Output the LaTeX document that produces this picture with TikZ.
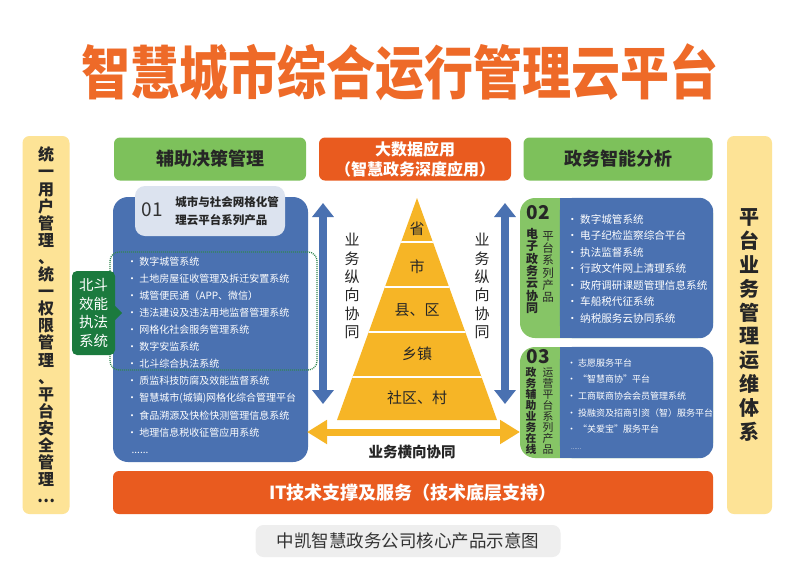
\documentclass[tikz,border=0pt]{standalone}
\usepackage{fontspec}
\setmainfont{Noto Sans CJK SC}
\usepackage{xcolor}
\usepackage{tikz}
\usetikzlibrary{arrows.meta,positioning,calc}

\definecolor{panelblue}{HTML}{4A71B1}
\definecolor{hdrgreen}{HTML}{7DC15B}
\definecolor{sidegreen}{HTML}{86C566}
\definecolor{hotorange}{HTML}{E95B1F}
\definecolor{titleorange}{HTML}{EE6A28}
\definecolor{pyrgold}{HTML}{F6B526}
\definecolor{baryellow}{HTML}{FDE396}
\definecolor{labelgray}{HTML}{DCE3EF}
\definecolor{beidougreen}{HTML}{1B7A3E}
\definecolor{capgray}{HTML}{EEEEEE}

\begin{document}
\begin{tikzpicture}[x=1pt,y=-1pt,
    panel/.style={fill=panelblue,rounded corners=15pt,inner sep=0pt},
    header/.style={rounded corners=6pt,minimum height=43pt,align=center,
      inner sep=0pt,font=\fontsize{18}{20}\selectfont\bfseries},
    sidebar/.style={fill=baryellow,rounded corners=7pt,minimum height=378pt,
      align=center,inner sep=0pt,text=black!85},
    itemlist/.style={anchor=north west,align=left,inner sep=0pt,text=white},
    vtext/.style={align=center,inner sep=0pt,text=black!85},
    level/.style={font=\fontsize{15}{15}\selectfont,text=black!85},
    vflow/.style={{Triangle[width=21pt,length=14pt]}-{Triangle[width=21pt,length=14pt]},
      line width=8pt,draw=panelblue},
    hflow/.style={{Triangle[width=23pt,length=20pt]}-{Triangle[width=23pt,length=20pt]},
      line width=7pt,draw=pyrgold}
  ]
    \useasboundingbox[fill=white] (0,0) rectangle (800,568);
    % title
    \node[text=titleorange,font=\fontsize{49}{49}\selectfont\bfseries] (title) at (400,72)
      {\scalebox{1}[1.18]{智慧城市综合运行管理云平台}};
    % side bars
    \node[sidebar,minimum width=47pt,font=\fontsize{16}{17.1}\selectfont\bfseries] (leftbar) at (46,325)
      {统\\一\\用\\户\\管\\理\\、\\统\\一\\权\\限\\管\\理\\、\\平\\台\\安\\全\\管\\理\\…};
    \node[sidebar,minimum width=45pt,font=\fontsize{20}{23.8}\selectfont\bfseries] (rightbar) at (749.5,325)
      {平\\台\\业\\务\\管\\理\\运\\维\\体\\系};
    % headers
    \node[header,fill=hdrgreen,minimum width=192pt,text=black!85] (hdrL) at (210,159) {辅助决策管理};
    \node[header,fill=hotorange,minimum width=192pt,text=white,
      font=\fontsize{16}{20}\selectfont\bfseries] (hdrM) at (415,159) {大数据应用\\（智慧政务深度应用）};
    \node[header,fill=hdrgreen,minimum width=189pt,text=black!85] (hdrR) at (618,159) {政务智能分析};

    % left panel 01
    \node[panel,minimum width=195pt,minimum height=265pt] (panel01) at (210.5,329.5) {};
    \node[fill=labelgray,rounded corners=10pt,minimum width=150pt,minimum height=50pt,
      align=left,inner sep=0pt,text=black!85,font=\fontsize{11.5}{18}\selectfont\bfseries] (lbl01) at (210,211)
      {\hspace*{34pt}城市与社会网格化管\\\hspace*{34pt}理云平台系列产品};
    \node[inner sep=0pt,font=\fontsize{19}{19}\selectfont,text=black!80] (num01) at (152,210) {01};
    \node[draw=beidougreen!90,line width=1.3pt,dash pattern=on 1pt off 1pt,rounded corners=9pt,
      minimum width=207pt,minimum height=118pt] (dot01) at (213.5,311) {};
    \node[itemlist,font=\fontsize{10}{17.1}\selectfont] (list01) at (127,256.5)
      {· 数字城管系统\\
       · 土地房屋征收管理及拆迁安置系统\\
       · 城管便民通（APP、微信）\\
       · 违法建设及违法用地监督管理系统\\
       · 网格化社会服务管理系统\\
       · 数字安监系统\\
       · 北斗综合执法系统\\
       · 质监科技防腐及效能监督系统\\
       · 智慧城市(城镇)网格化综合管理平台\\
       · 食品溯源及快检快测管理信息系统\\
       · 地理信息税收征管应用系统\\
       \ \ ......};
    \node[fill=beidougreen,rounded corners=5pt,minimum width=43pt,minimum height=84pt,
      align=center,inner sep=0pt,text=white,font=\fontsize{14.5}{18.5}\selectfont] (beidou) at (93.5,313)
      {北斗\\效能\\执法\\系统};
    \fill[beidougreen] ($(beidou.east)+(-1,-8)$) -- ($(beidou.east)+(7,0)$) -- ($(beidou.east)+(-1,8)$) -- cycle;

    % right panel 02
    \node[panel,fill=sidegreen,minimum width=193pt,minimum height=140pt] (panel02) at (616.5,268) {};
    \fill[panelblue,rounded corners=14pt] ($(panel02.north west)+(40,0)$) rectangle (panel02.south east);
    \fill[panelblue] ($(panel02.north west)+(40,0)$) rectangle ($(panel02.south west)+(70,0)$);
    \node[font=\fontsize{19}{19}\selectfont\bfseries,text=black!85] (num02) at (538,213) {02};
    \node[vtext,font=\fontsize{12}{12.3}\selectfont\bfseries] (side02a) at (532,271) {电\\子\\政\\务\\云\\协\\同};
    \node[vtext,font=\fontsize{11.5}{12.2}\selectfont] (side02b) at (548,267) {平\\台\\系\\列\\产\\品};
    \node[itemlist,font=\fontsize{10.6}{16.5}\selectfont] (list02) at (567,214)
      {· 数字城管系统\\
       · 电子纪检监察综合平台\\
       · 执法监督系统\\
       · 行政文件网上清理系统\\
       · 政府调研课题管理信息系统\\
       · 车船税代征系统\\
       · 纳税服务云协同系统};

    % right panel 03
    \node[panel,fill=sidegreen,minimum width=193pt,minimum height=111pt] (panel03) at (616.5,402.5) {};
    \fill[panelblue,rounded corners=14pt] ($(panel03.north west)+(40,0)$) rectangle (panel03.south east);
    \fill[panelblue] ($(panel03.north west)+(40,0)$) rectangle ($(panel03.south west)+(70,0)$);
    \node[font=\fontsize{19}{19}\selectfont\bfseries,text=black!85] (num03) at (538,357) {03};
    \node[vtext,font=\fontsize{10.8}{11}\selectfont\bfseries] (side03a) at (531,411) {政\\务\\辅\\助\\业\\务\\在\\线};
    \node[vtext,font=\fontsize{10.8}{11}\selectfont] (side03b) at (548,411) {运\\营\\平\\台\\系\\列\\产\\品};
    \node[itemlist,font=\fontsize{9}{16.6}\selectfont] (list03) at (567,358.5)
      {· 志愿服务平台\\
       · “智慧商协”平台\\
       · 工商联商协会会员管理系统\\
       · 投融资及招商引资（智）服务平台\\
       · “关爱宝”服务平台\\
       \ \ {\fontsize{6}{6}\selectfont ......}};

    % pyramid
    \coordinate (apex) at (417,198);
    \coordinate (baseL) at (337,420);
    \coordinate (baseR) at (497,420);
    \fill[pyrgold] (apex) -- (baseR) -- (baseL) -- cycle;
    \begin{scope}
      \clip (apex) -- (baseR) -- (baseL) -- cycle;
      \draw[white,line width=2pt] (330,242) -- (505,242);
      \draw[white,line width=2pt] (330,287) -- (505,287);
      \draw[white,line width=2pt] (330,332) -- (505,332);
      \draw[white,line width=2pt] (330,377) -- (505,377);
    \end{scope}
    \node[level] (lvl1) at (417,229) {省};
    \node[level] (lvl2) at (417,267) {市};
    \node[level] (lvl3) at (417,310) {县、区};
    \node[level] (lvl4) at (417,354) {乡镇};
    \node[level] (lvl5) at (417,398) {社区、村};

    % arrows
    \coordinate (vLtop) at (323,203);
    \coordinate (vLbot) at (323,404);
    \coordinate (vRtop) at (505,203);
    \coordinate (vRbot) at (505,404);
    \draw[vflow] (vLtop) -- (vLbot);
    \draw[vflow] (vRtop) -- (vRbot);
    \node[vtext,font=\fontsize{15}{18.3}\selectfont] (vlabL) at (352,286) {业\\务\\纵\\向\\协\\同};
    \node[vtext,font=\fontsize{15}{18.3}\selectfont] (vlabR) at (482,286) {业\\务\\纵\\向\\协\\同};
    \coordinate (hL) at (307,432);
    \coordinate (hR) at (520,432);
    \draw[hflow] (hL) -- (hR);
    \node[font=\fontsize{14.5}{15}\selectfont\bfseries,text=black!85] (hlab) at (412,452) {业务横向协同};

    % bottom
    \node[header,fill=hotorange,minimum width=600pt,text=white] (itbar) at (413,492.5)
      {IT技术支撑及服务（技术底层支持）};
    \node[fill=capgray,rounded corners=8pt,minimum width=305pt,minimum height=32pt,
      text=black!80,font=\fontsize{17.5}{18}\selectfont] (caption) at (408,541)
      {中凯智慧政务公司核心产品示意图};
\end{tikzpicture}
\end{document}
